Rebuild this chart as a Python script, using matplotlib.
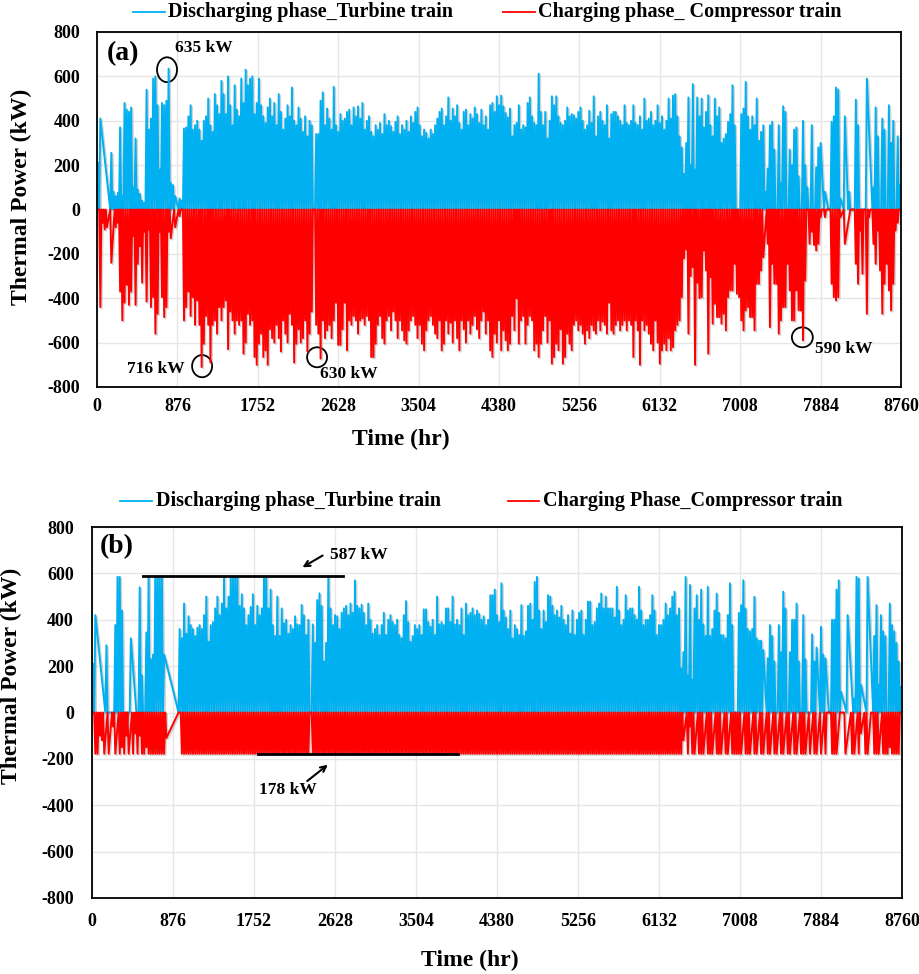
import numpy as np
import matplotlib
matplotlib.use("Agg")
import matplotlib.pyplot as plt
import matplotlib.patheffects as pe
from matplotlib.patches import Ellipse
from matplotlib.lines import Line2D

plt.rcParams["font.family"] = ["Liberation Serif", "DejaVu Serif"]
plt.rcParams["font.weight"] = "bold"
plt.rcParams["axes.unicode_minus"] = False

""" Ticks of both panels """
hour_ticks = [0, 876, 1752, 2628, 3504, 4380, 5256, 6132, 7008, 7884, 8760]
power_ticks = [-800, -600, -400, -200, 0, 200, 400, 600, 800]

""" Daily peak thermal power (kW), one value per day, None = no record that day """
# (a) discharging phase - turbine train
dis_a = [
    210, 410, None, None, None, None, 255, 80, 60, 75,
    370, 60, 480, 450, 440, 460, 100, 320, 90, 70,
    40, 30, 540, 360, 410, 590, 600, 470, 180, 480,
    470, 490, 635, 120, 110, 60, None, 50, 40, 365,
    370, 420, 470, 360, 380, 400, 360, 310, 400, 420,
    500, 380, 350, 520, 470, 430, 580, 520, 430, 600,
    470, 380, 560, 450, 420, 590, 480, 630, 560, 590,
    600, 430, 480, 590, 470, 420, 390, 460, 500, 420,
    480, 380, 520, 440, 360, 410, 470, 420, 550, 400,
    380, 460, 410, 350, 420, 330, 400, 380, 0, 340,
    340, 490, 528, 380, 455, 410, 360, 553, 380, 350,
    430, 400, 410, 440, 450, 380, 460, 420, 465, 410,
    480, 360, 400, 420, 350, 330, 380, 360, 390, 340,
    430, 380, 400, 375, 350, 395, 420, 340, 380, 360,
    400, 350, 420, 390, 440, 460, 380, 330, 360, 345,
    320, 360, 340, 380, 410, 440, 455, 380, 420, 505,
    400, 455, 420, 470, 390, 360, 440, 450, 380, 430,
    410, 460, 430, 390, 450, 380, 420, 360, 470, 480,
    440, 510, 470, 513, 465, 435, 415, 455, 330, 380,
    390, 470, 360, 380, 370, 480, 505, 420, 390, 380,
    612, 440, 380, 440, 320, 400, 510, 470, 510, 420,
    390, 380, 400, 460, 420, 430, 425, 410, 440, 460,
    400, 360, 380, 445, 390, 510, 330, 420, 440, 400,
    380, 470, 320, 430, 440, 440, 420, 400, 380, 470,
    390, 380, 400, 470, 390, 380, 420, 360, 500, 400,
    410, 440, 380, 400, 470, 390, 420, 360, 400, 500,
    410, 513, 520, 420, 330, 280, 160, 300, 505, 200,
    565, 180, 505, 420, 500, 370, 440, 515, 380, 330,
    500, 420, 460, 300, 320, 340, 395, 430, 560, 380,
    0, 0, 430, 455, 575, 420, 360, 420, 380, 500,
    310, 350, 380, 80, 185, 380, 395, 270, 0, 380,
    120, 465, 440, 0, 270, 200, 360, 370, 150, 0,
    400, 200, 100, 0, 380, 0, 190, 280, 300, None,
    80, None, 0, 395, 420, 550, 540, 50, None, 420,
    None, 80, 0, None, 495, 380, 0, None, None, 590,
    None, None, 100, 460, 330, 0, 410, 360, 0, 470,
    300, 400, 0, 330, 110,
]

# (a) charging phase - compressor train
chg_a = [
    0, -440, -60, -90, -80, None, -240, None, -80, -60,
    -370, -500, -420, -340, -430, -370, -120, -430, -245, -165,
    -330, -100, -415, -90, -440, -395, -560, -470, -100, -395,
    -485, -440, -100, -130, None, -80, None, -30, 0, -500,
    -440, -370, -480, -395, -520, -410, -520, -710, -605, -480,
    -520, -690, -520, -500, -560, -440, -500, -440, -410, -630,
    -460, -500, -560, -500, -520, -500, -650, -600, -470, -520,
    -500, -665, -700, -605, -560, -665, -635, -700, -540, -580,
    -600, -520, -580, -640, -500, -560, -600, -470, -520, -690,
    -605, -540, -600, -580, -500, -640, -560, -460, 0, -520,
    -560, -672, -500, -580, -545, -520, -580, -500, -420, -610,
    -610, -540, -420, -635, -500, -520, -480, -500, -560, -500,
    -490, -520, -480, -500, -665, -665, -605, -520, -480, -580,
    -605, -500, -480, -545, -460, -500, -580, -500, -545, -590,
    -605, -545, -500, -480, -520, -580, -520, -605, -635, -545,
    -500, -480, -520, -560, -580, -500, -635, -605, -500, -560,
    -510, -600, -500, -580, -635, -500, -540, -600, -500, -560,
    -520, -480, -540, -580, -500, -460, -560, -500, -635, -665,
    -560, -600, -500, -635, -545, -590, -635, -605, -480, -545,
    -400, -605, -500, -480, -605, -520, -480, -500, -635, -605,
    -665, -605, -545, -480, -600, -500, -695, -665, -605, -635,
    -540, -695, -665, -560, -605, -635, -520, -500, -545, -520,
    -560, -605, -545, -580, -520, -545, -560, -500, -545, -505,
    -520, -560, -420, -545, -560, -520, -500, -545, -520, -500,
    -545, -500, -520, -665, -500, -545, -700, -500, -545, -520,
    -560, -605, -635, -500, -600, -695, -635, -605, -635, -580,
    -635, -620, -545, -520, -500, -395, -220, -180, -560, -300,
    -260, -700, -330, -400, -395, -185, -275, -650, -305, -515,
    -425, -485, -485, -515, -470, -545, -395, -365, -365, -245,
    -380, -395, -500, -545, -455, -440, -485, -485, -545, -335,
    -335, -275, -215, None, -155, -530, -245, -335, -335, -560,
    -500, -440, -440, -245, -365, -500, -500, -365, -455, -455,
    -590, -320, 0, -155, -100, -160, -185, -155, -35, 0,
    -35, 0, 0, -335, -395, -410, -395, -35, None, -155,
    None, None, 0, 0, -245, -335, -95, -290, 0, -470,
    -35, 0, -155, -245, -95, -275, -470, -335, -245, -365,
    -455, -335, -95, -60, 0,
]

# (b) discharging phase - turbine train (capped at 587 kW)
dis_b = [
    210, 420, None, None, None, None, 290, 0, 0, 0,
    377, 585, 585, 440, 0, 0, 0, 320, None, None,
    0, 540, 160, 0, 345, 585, 230, 250, 585, 585,
    585, 585, 250, None, None, None, None, None, None, 360,
    320, 470, 340, 415, 377, 360, 330, 366, 377, 360,
    420, 500, 305, 377, 390, 449, 500, 420, 470, 585,
    449, 500, 585, 585, 585, 585, 460, 510, 449, 377,
    420, 455, 510, 377, 460, 420, 449, 585, 585, 449,
    530, 377, 330, 500, 330, 449, 385, 400, 340, 377,
    360, 415, 380, 377, 464, 420, 334, 400, 0, 380,
    300, 485, 514, 460, 220, 300, 585, 449, 377, 420,
    415, 360, 430, 449, 460, 420, 470, 430, 570, 460,
    449, 465, 430, 377, 470, 400, 340, 360, 377, 334,
    377, 430, 334, 400, 420, 390, 377, 400, 334, 320,
    420, 480, 390, 305, 330, 377, 360, 377, 334, 445,
    445, 390, 370, 400, 334, 500, 380, 390, 377, 449,
    449, 390, 500, 380, 400, 377, 449, 334, 470, 420,
    430, 449, 420, 440, 425, 400, 415, 377, 400, 506,
    506, 530, 420, 390, 557, 440, 410, 360, 440, 320,
    377, 360, 334, 463, 330, 350, 460, 470, 400, 563,
    585, 440, 360, 440, 390, 506, 500, 460, 420, 440,
    410, 460, 400, 377, 420, 340, 440, 334, 400, 430,
    440, 334, 400, 478, 478, 377, 390, 449, 470, 513,
    449, 500, 449, 449, 449, 410, 542, 440, 377, 400,
    506, 440, 449, 449, 420, 400, 542, 440, 377, 400,
    400, 420, 506, 440, 334, 377, 377, 400, 470, 420,
    449, 500, 521, 420, 449, 190, 260, 585, 160, 550,
    140, 449, 506, 400, 530, 380, 330, 542, 330, 360,
    440, 513, 430, 334, 334, 320, 420, 557, 377, 0,
    0, 430, 463, 570, 449, 360, 350, 360, 499, 320,
    310, 310, 270, None, 234, 377, 330, 220, 0, 377,
    260, 521, 449, 0, 260, 400, 400, 470, 220, 0,
    420, 230, 0, None, 337, 220, 280, None, 370, 250,
    234, None, 0, 400, 400, 530, 570, 90, None, None,
    420, None, None, 60, 585, 578, 120, None, None, 585,
    None, None, 330, 463, 120, 420, 350, 330, 0, 470,
    377, 350, 300, 220, 110,
]

# (b) charging phase - compressor train (capped at 178 kW)
chg_b = [
    0, -178, -178, -100, -120, -178, None, -178, None, -60,
    -178, None, -178, -150, -178, -100, -178, None, -178, -90,
    -178, -100, -178, -178, -150, -178, -178, -178, -178, -178,
    -178, -178, -178, -110, None, None, None, None, None, 0,
    -178, -178, -178, -178, -178, -178, -178, -178, -178, -178,
    -178, -178, -178, -178, -178, -178, -178, -178, -178, -178,
    -178, -178, -178, -178, -178, -178, -178, -178, -178, -178,
    -178, -178, -178, -178, -178, -178, -178, -178, -178, -178,
    -178, -178, -178, -178, -178, -178, -178, -178, -178, -178,
    -178, -178, -178, -178, -178, -178, -178, -178, 0, -178,
    -178, -178, -178, -178, -178, -178, -178, -178, -178, -178,
    -178, -178, -178, -178, -178, -178, -178, -178, -178, -178,
    -178, -178, -178, -178, -178, -178, -178, -178, -178, -178,
    -178, -178, -178, -178, -178, -178, -178, -178, -178, -178,
    -178, -178, -178, -178, -178, -178, -178, -178, -178, -178,
    -178, -178, -178, -178, -178, -178, -178, -178, -178, -178,
    -178, -178, -178, -178, -178, -178, -178, -178, -178, -178,
    -178, -178, -178, -178, -178, -178, -178, -178, -178, -178,
    -178, -178, -178, -178, -178, -178, -178, -178, -178, -178,
    -178, -178, -178, -178, -178, -178, -178, -178, -178, -178,
    -178, -178, -178, -178, -178, -178, -178, -178, -178, -178,
    -178, -178, -178, -178, -178, -178, -178, -178, -178, -178,
    -178, -178, -178, -178, -178, -178, -178, -178, -178, -178,
    -178, -178, -178, -178, -178, -178, -178, -178, -178, -178,
    -178, -178, -178, -178, -178, -178, -178, -178, -178, -178,
    -178, -178, -178, -178, -178, -178, -178, -178, -178, -178,
    -178, -178, -178, -178, -178, -178, -120, None, -178, -60,
    -178, -178, None, -178, -178, -178, None, -178, -178, -178,
    None, -178, -178, -178, None, -178, -178, None, -178, -178,
    -178, -178, -178, None, -178, -178, -178, None, -178, -178,
    None, -178, -178, None, -178, -178, None, -178, -178, None,
    -178, -178, None, -178, -178, None, -178, -178, None, -178,
    -178, -178, None, -178, None, -178, -178, None, -178, None,
    -178, 0, None, -178, -178, -178, None, 0, None, -178,
    None, None, -178, -178, None, -178, -90, None, -178, -178,
    None, 0, -178, -178, -178, None, -178, -178, -178, -150,
    -178, -178, -178, -178, 0,
]

W, H = 919, 974
BLUE = "#00b0f0"
RED = "#ff0000"
SHADOW = [pe.SimpleLineShadow(offset=(1, -1), shadow_color="#7f7f7f", alpha=0.35),
          pe.Normal()]


def daily_path(values):
    """ each day: back to zero at the start of the day, peak at mid day """
    xs, ys = [], []
    for day, v in enumerate(values):
        if v is None:
            continue
        xs.extend([day * 24, day * 24 + 12])
        ys.extend([0, v])
    return xs, ys


def style_axes(ax, xpad, ypad):
    ax.set_xlim(0, 8760)
    ax.set_ylim(-800, 800)
    ax.set_xticks(hour_ticks)
    ax.set_yticks(power_ticks)
    ax.grid(True, color="#e6e6e6", lw=1.0)
    ax.set_axisbelow(True)
    ax.tick_params(axis="x", length=0, labelsize=13, pad=xpad)
    ax.tick_params(axis="y", length=0, labelsize=13, pad=ypad)
    for s in ax.spines.values():
        s.set_linewidth(1.3)
        s.set_color("black")


def legend_row(y_px, items):
    y = 1 - y_px / H
    for x0, x1, xt, color, text in items:
        fig.add_artist(Line2D([x0 / W, x1 / W], [y, y], color=color, lw=1.3,
                              transform=fig.transFigure))
        fig.text(xt / W, y, text, ha="left", va="center", fontsize=14.5,
                 fontweight="bold")


fig = plt.figure(figsize=(W / 100, H / 100), dpi=100)

""" Panel (a) """
ax_a = fig.add_axes([97 / W, 1 - 387 / H, 804 / W, 355 / H])
ax_a.plot(*daily_path(dis_a), color=BLUE, lw=1.4, path_effects=SHADOW)
ax_a.plot(*daily_path(chg_a), color=RED, lw=1.4, path_effects=SHADOW)
style_axes(ax_a, 8, 12)
ax_a.set_xlabel("Time (hr)", fontsize=17, fontweight="bold")
ax_a.xaxis.set_label_coords(0.378, -0.118)
ax_a.set_ylabel("Thermal Power (kW)", fontsize=17, fontweight="bold")
ax_a.yaxis.set_label_coords(-0.081, 0.535)

ax_a.text(0.012, 0.975, "(a)", transform=ax_a.transAxes, fontsize=20,
          ha="left", va="top", fontweight="bold")
ax_a.text(850, 729, "635 kW", fontsize=12.5, va="center")
ax_a.add_patch(Ellipse((763, 630), 218, 112, fill=False, lw=1.3, ec="black"))
ax_a.text(959, -720, "716 kW", fontsize=12.5, va="center", ha="right")
ax_a.add_patch(Ellipse((1145, -706), 218, 100, fill=False, lw=1.3, ec="black"))
ax_a.text(2430, -740, "630 kW", fontsize=12.5, va="center")
ax_a.add_patch(Ellipse((2398, -666), 218, 90, fill=False, lw=1.3, ec="black"))
ax_a.text(7823, -630, "590 kW", fontsize=12.5, va="center")
ax_a.add_patch(Ellipse((7685, -576), 228, 90, fill=False, lw=1.3, ec="black"))

legend_row(12, [(133, 165, 168, BLUE, "Discharging phase_Turbine train"),
                (503, 535, 538, RED, "Charging phase_ Compressor train")])

""" Panel (b) """
ax_b = fig.add_axes([92 / W, 1 - 898 / H, 810 / W, 371 / H])
ax_b.plot(*daily_path(dis_b), color=BLUE, lw=1.4, path_effects=SHADOW)
ax_b.plot(*daily_path(chg_b), color=RED, lw=1.4, path_effects=SHADOW)
style_axes(ax_b, 11, 13)
ax_b.set_xlabel("Time (hr)", fontsize=17, fontweight="bold")
ax_b.xaxis.set_label_coords(0.467, -0.14)
ax_b.set_ylabel("Thermal Power (kW)", fontsize=17, fontweight="bold")
ax_b.yaxis.set_label_coords(-0.086, 0.60)

ax_b.text(0.009, 0.98, "(b)", transform=ax_b.transAxes, fontsize=20,
          ha="left", va="top", fontweight="bold")
ax_b.plot([552, 2715], [587, 587], color="black", lw=2)
ax_b.annotate("", xy=(2250, 620), xytext=(2520, 683),
              arrowprops=dict(arrowstyle="->", lw=1.5, color="black"))
ax_b.text(2574, 679, "587 kW", fontsize=12.5, va="center")
ax_b.plot([1795, 3958], [-178, -178], color="black", lw=2)
ax_b.annotate("", xy=(2574, -218), xytext=(2304, -303),
              arrowprops=dict(arrowstyle="->", lw=1.5, color="black"))
ax_b.text(1806, -334, "178 kW", fontsize=12.5, va="center")

legend_row(501, [(120, 152, 156, BLUE, "Discharging phase_Turbine train"),
                 (508, 539, 543, RED, "Charging Phase_Compressor train")])

fig.savefig("out.png", dpi=100)
